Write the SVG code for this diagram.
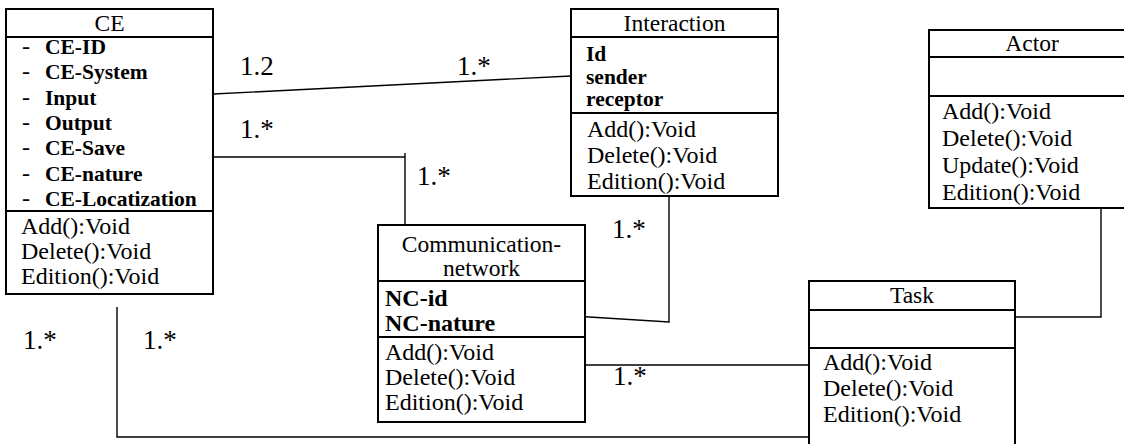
<svg xmlns="http://www.w3.org/2000/svg" width="1124" height="444" viewBox="0 0 1124 444">
<style>
.box{fill:#fff;stroke:#000;stroke-width:2}
.sep{stroke:#000;stroke-width:2}
text{font-family:"Liberation Serif","Times New Roman",serif;font-size:24px;fill:#000}
.b{font-weight:bold;font-size:21.5px}
.nb{font-weight:bold;font-size:24px}
.mid{text-anchor:middle;font-size:23.5px}
.lbl{font-size:27px}
.c{fill:none;stroke:#000;stroke-width:1.4}
</style>
<rect width="1124" height="444" fill="#fff"/>
<g id="connectors">
<path class="c" d="M213,94 L571,76"/>
<path class="c" d="M213,157 L405,157 M405,153 L405,225"/>
<path class="c" d="M669,196 L669,322 L573,316"/>
<path class="c" d="M573,365 L813,365"/>
<path class="c" d="M117,307 L117,437 L813,437"/>
<path class="c" d="M1101,198 L1101,317 L1005,317"/>
<text class="lbl" x="240" y="75">1.2</text>
<text class="lbl" x="457" y="75">1.*</text>
<text class="lbl" x="240" y="138">1.*</text>
<text class="lbl" x="417" y="185">1.*</text>
<text class="lbl" x="612" y="238">1.*</text>
<text class="lbl" x="613" y="385">1.*</text>
<text class="lbl" x="23" y="349">1.*</text>
<text class="lbl" x="143" y="349">1.*</text>
</g>
<g id="CE">
<rect class="box" x="6" y="9" width="207" height="285"/>
<line class="sep" x1="6" y1="37" x2="213" y2="37"/>
<line class="sep" x1="6" y1="211" x2="213" y2="211"/>
<text class="mid" x="109.5" y="31">CE</text>
<text x="22" y="54">-</text><text class="b" x="45" y="54">CE-ID</text>
<text x="22" y="79">-</text><text class="b" x="45" y="79">CE-System</text>
<text x="22" y="105">-</text><text class="b" x="45" y="105">Input</text>
<text x="22" y="130">-</text><text class="b" x="45" y="130">Output</text>
<text x="22" y="155">-</text><text class="b" x="45" y="155">CE-Save</text>
<text x="22" y="181">-</text><text class="b" x="45" y="181">CE-nature</text>
<text x="22" y="206">-</text><text class="b" x="45" y="206">CE-Locatization</text>
<text x="21" y="234">Add():Void</text>
<text x="21" y="259">Delete():Void</text>
<text x="21" y="284">Edition():Void</text>
</g>
<g id="Interaction">
<rect class="box" x="571" y="9" width="207" height="187"/>
<line class="sep" x1="571" y1="37" x2="778" y2="37"/>
<line class="sep" x1="571" y1="113" x2="778" y2="113"/>
<text class="mid" x="674.5" y="31">Interaction</text>
<text class="b" x="586" y="61">Id</text>
<text class="b" x="586" y="84">sender</text>
<text class="b" x="586" y="106">receptor</text>
<text x="587" y="137">Add():Void</text>
<text x="587" y="163">Delete():Void</text>
<text x="587" y="189">Edition():Void</text>
</g>
<g id="Actor">
<rect class="box" x="929" y="30" width="207" height="178"/>
<line class="sep" x1="929" y1="57" x2="1136" y2="57"/>
<line class="sep" x1="929" y1="96" x2="1136" y2="96"/>
<text class="mid" x="1032" y="51">Actor</text>
<text x="942" y="119">Add():Void</text>
<text x="942" y="146">Delete():Void</text>
<text x="942" y="173">Update():Void</text>
<text x="942" y="200">Edition():Void</text>
</g>
<g id="Communication-network">
<rect class="box" x="378" y="225" width="207" height="197"/>
<line class="sep" x1="378" y1="281" x2="585" y2="281"/>
<line class="sep" x1="378" y1="337" x2="585" y2="337"/>
<text class="mid" x="481.5" y="252">Communication-</text>
<text class="mid" x="481.5" y="276">network</text>
<text class="nb" x="385" y="306">NC-id</text>
<text class="nb" x="385" y="331">NC-nature</text>
<text x="385" y="360">Add():Void</text>
<text x="385" y="385">Delete():Void</text>
<text x="385" y="410">Edition():Void</text>
</g>
<g id="Task">
<rect class="box" x="809" y="281" width="206" height="180"/>
<line class="sep" x1="809" y1="310" x2="1015" y2="310"/>
<line class="sep" x1="809" y1="348" x2="1015" y2="348"/>
<text class="mid" x="912" y="303">Task</text>
<text x="823" y="370">Add():Void</text>
<text x="823" y="396">Delete():Void</text>
<text x="823" y="422">Edition():Void</text>
</g>
</svg>
